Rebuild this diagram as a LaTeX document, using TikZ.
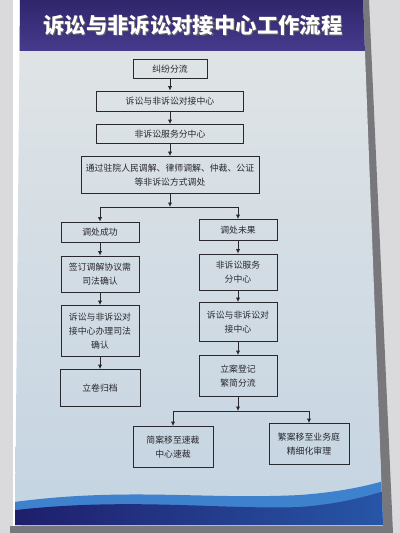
\documentclass[tikz,border=0pt]{standalone}
\usepackage{fontspec}
\setmainfont{Noto Sans CJK SC}
\usetikzlibrary{positioning}
\usetikzlibrary{arrows.meta}
\definecolor{wallgray}{RGB}{218,218,220}
\definecolor{framegray}{RGB}{120,120,124}
\definecolor{titletop}{RGB}{48,38,108}
\definecolor{titlebot}{RGB}{70,58,140}
\definecolor{bodytop}{RGB}{226,229,230}
\definecolor{bodybot}{RGB}{196,212,226}
\definecolor{wavelight}{RGB}{62,130,205}
\definecolor{wavedark}{RGB}{30,28,105}
\definecolor{wavemid}{RGB}{40,88,170}
\definecolor{inkgray}{RGB}{40,40,46}
\tikzset{
  flowbox/.style={draw=inkgray, line width=0.55pt, align=center, inner sep=0pt,
    text=inkgray, font=\fontsize{6.3}{10}\selectfont},
  sidebox/.style={flowbox, minimum width=1.95cm},
  flowarrow/.style={-{Latex[length=3.2pt,width=3pt]}, draw=inkgray, line width=0.55pt},
}
\begin{document}
\begin{tikzpicture}[x=0.025cm, y=-0.025cm]
    \useasboundingbox (0,0) rectangle (400,533);
    % wall, frame and board
    \fill[wallgray] (0,0) rectangle (400,533);
    \fill[white] (13,0) rectangle (21,533);
    \fill[framegray] (362,0) -- (369,0) -- (393,533) -- (10,533) -- (10,526) -- (383,526) -- cycle;
    \shade[top color=bodytop, bottom color=bodybot] (20,0) -- (363,0) -- (383,525) -- (15,525) -- cycle;
    \begin{scope}
        \clip (20,0) -- (363,0) -- (383,525) -- (15,525) -- cycle;
        \shade[top color=titletop, bottom color=titlebot] (0,0) rectangle (400,50);
        \fill[wavelight] (0,504) .. controls (120,486) and (200,500) .. (300,495)
            .. controls (340,492) and (370,486) .. (400,476) -- (400,533) -- (0,533) -- cycle;
        \shade[left color=wavedark, right color=wavemid] (0,512) .. controls (120,496) and (220,510) .. (300,507)
            .. controls (340,504) and (370,496) .. (400,486) -- (400,533) -- (0,533) -- cycle;
    \end{scope}
    \node[text=black!60] at (194,26) {\fontsize{15.2}{18}\selectfont\bfseries 诉讼与非诉讼对接中心工作流程};
    \node[text=white] (title) at (193,25) {\fontsize{15.2}{18}\selectfont\bfseries 诉讼与非诉讼对接中心工作流程};

    % main column
    \node[flowbox, minimum width=1.85cm, minimum height=0.475cm] (fenliu) at (170,69) {纠纷分流};
    \node[flowbox, minimum width=3.675cm, minimum height=0.5cm] (duijie) at (170,101) {诉讼与非诉讼对接中心};
    \node[flowbox, minimum width=3.675cm, minimum height=0.475cm] (fuwu) at (170,134) {非诉讼服务分中心};
    \node[flowbox, minimum width=4.45cm, minimum height=0.925cm] (tiaochu) at (170,175)
        {通过驻院人民调解、律师调解、仲裁、公证\\等非诉讼方式调处};
    \coordinate (forka) at (170,207);

    % left column
    \node[sidebox, minimum height=0.5cm] (chenggong) at (100,232) {调处成功};
    \node[sidebox, minimum height=0.9cm] (queren) at (100,274) {签订调解协议需\\司法确认};
    \node[sidebox, minimum height=1.275cm] (banli) at (100,331) {诉讼与非诉讼对\\接中心办理司法\\确认};
    \node[sidebox, minimum width=2cm, minimum height=0.925cm] (guidang) at (100,388) {立卷归档};

    % right column
    \node[sidebox, minimum height=0.525cm] (weiguo) at (238,230) {调处未果};
    \node[sidebox, minimum height=0.9cm] (fenzhong) at (238,272) {非诉讼服务\\分中心};
    \node[sidebox, minimum height=0.975cm] (duijieb) at (238,322) {诉讼与非诉讼对\\接中心};
    \node[sidebox, minimum height=1.025cm] (lian) at (238,376) {立案登记\\繁简分流};
    \coordinate (forkb) at (238,411);

    % bottom row
    \node[sidebox, minimum width=2cm, minimum height=1.025cm] (jianan) at (173,447) {简案移至速裁\\中心速裁};
    \node[sidebox, minimum width=2cm, minimum height=1.025cm] (fanan) at (309,444) {繁案移至业务庭\\精细化审理};

    % connectors
    \foreach \a/\b in {fenliu/duijie, duijie/fuwu, fuwu/tiaochu,
        chenggong/queren, queren/banli, banli/guidang,
        weiguo/fenzhong, fenzhong/duijieb, duijieb/lian} {
        \draw[flowarrow] (\a) -- (\b);
    }
    \draw[flowarrow] (tiaochu) -- (forka);
    \draw[flowarrow] (forka) -| (chenggong);
    \draw[flowarrow] (forka) -| (weiguo);
    \draw[flowarrow] (lian) -- (forkb);
    \draw[flowarrow] (forkb) -| (jianan);
    \draw[flowarrow] (forkb) -| (fanan);
\end{tikzpicture}
\end{document}
